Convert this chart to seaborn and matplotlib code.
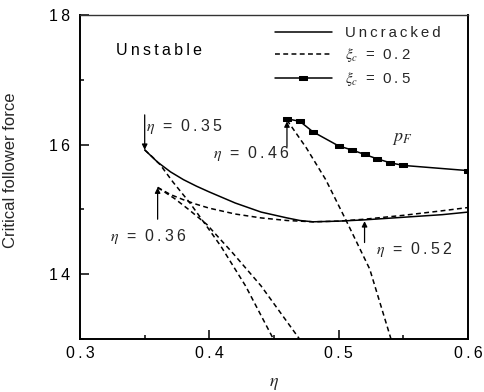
import numpy as np
import pandas as pd
import matplotlib
matplotlib.use("Agg")
import matplotlib.pyplot as plt
from matplotlib.path import Path
from matplotlib.ticker import FixedLocator, MultipleLocator
import seaborn as sns

# ---- data -------------------------------------------------------------
# Uncracked column: critical follower force (upper branch) and lower branch
eta_unc = [0.35, 0.36, 0.37, 0.38, 0.39, 0.40, 0.42, 0.44, 0.46, 0.47,
           0.48, 0.50, 0.52, 0.55, 0.58, 0.60]
p_unc = [15.92, 15.73, 15.58, 15.46, 15.36, 15.27, 15.10, 14.96, 14.87, 14.83,
         14.81, 14.82, 14.84, 14.88, 14.92, 14.96]
eta_unc_low = [0.35, 0.356, 0.362, 0.372, 0.385, 0.398, 0.409, 0.428, 0.449, 0.452]
p_unc_low = [15.92, 15.81, 15.69, 15.42, 15.10, 14.74, 14.43, 13.82, 13.02, 12.90]

# Crack depth xi_c = 0.2
eta_c02 = [0.36, 0.37, 0.38, 0.39, 0.40, 0.42, 0.44, 0.46, 0.48, 0.50,
           0.52, 0.55, 0.58, 0.60]
p_c02 = [15.34, 15.23, 15.15, 15.08, 15.02, 14.93, 14.87, 14.83, 14.81, 14.82,
         14.85, 14.91, 14.98, 15.03]
eta_c02_low = [0.36, 0.373, 0.384, 0.398, 0.418, 0.440, 0.469, 0.472]
p_c02_low = [15.34, 15.17, 15.00, 14.77, 14.33, 13.82, 13.02, 12.93]

# Crack depth xi_c = 0.5
eta_c05 = [0.46, 0.47, 0.48, 0.50, 0.51, 0.52, 0.53, 0.54, 0.55, 0.60]
p_c05 = [16.40, 16.36, 16.20, 15.98, 15.92, 15.85, 15.78, 15.72, 15.68, 15.60]
eta_c05_low = [0.46, 0.475, 0.49, 0.506, 0.524, 0.540, 0.542]
p_c05_low = [16.38, 15.95, 15.46, 14.82, 14.08, 13.03, 12.90]

x_ticks = [0.3, 0.4, 0.5, 0.6]
x_tick_labels = ["0.3", "0.4", "0.5", "0.6"]
y_ticks = [14, 16, 18]
y_tick_labels = ["14", "16", "18"]

# ---- style ------------------------------------------------------------
sns.set_theme(style="ticks")
plt.rcParams["font.family"] = ["Liberation Sans", "DejaVu Sans"]
plt.rcParams["mathtext.fontset"] = "stix"
plt.rcParams["axes.linewidth"] = 1.3


def spaced(s):
    """Letter-spaced text, as in the typeset figure."""
    return "\u2009".join(s)


fig = plt.figure(figsize=(4.85, 3.92), dpi=100)
ax = fig.add_axes([0.165, 0.135, 0.800, 0.8265])

dash = (0, (3.2, 2.2))
lw = 1.1
rect = Path([(-1, -0.6), (1, -0.6), (1, 0.6), (-1, 0.6), (-1, -0.6)],
            [Path.MOVETO, Path.LINETO, Path.LINETO, Path.LINETO, Path.CLOSEPOLY])

sns.lineplot(x=eta_unc, y=p_unc, ax=ax, color="black", lw=lw,
             estimator=None, label=spaced("Uncracked"))
sns.lineplot(x=eta_unc_low, y=p_unc_low, ax=ax, color="black", lw=lw,
             linestyle=dash, estimator=None)
sns.lineplot(x=eta_c02, y=p_c02, ax=ax, color="black", lw=lw,
             linestyle=dash, estimator=None,
             label="$\\xi_c$  =  " + spaced("0.2"))
sns.lineplot(x=eta_c02_low, y=p_c02_low, ax=ax, color="black", lw=lw,
             linestyle=dash, estimator=None)
sns.lineplot(x=eta_c05, y=p_c05, ax=ax, color="black", lw=lw,
             marker=rect, markersize=5.5, markeredgecolor="black",
             markerfacecolor="black", estimator=None,
             label="$\\xi_c$  =  " + spaced("0.5"))
sns.lineplot(x=eta_c05_low, y=p_c05_low, ax=ax, color="black", lw=lw,
             linestyle=dash, estimator=None)

# ---- axes -------------------------------------------------------------
ax.set_xlim(0.3, 0.6)
ax.set_ylim(13, 18)
ax.xaxis.set_major_locator(FixedLocator(x_ticks))
ax.xaxis.set_minor_locator(MultipleLocator(0.05))
ax.yaxis.set_major_locator(FixedLocator(y_ticks))
ax.yaxis.set_minor_locator(MultipleLocator(1))
ax.set_xticklabels([spaced(t) for t in x_tick_labels])
ax.set_yticklabels([spaced(t) for t in y_tick_labels])
ax.tick_params(which="both", direction="in", top=False, right=False,
               colors="black", labelsize=11.5, width=1.1)
ax.tick_params(which="major", length=6.5)
ax.tick_params(which="minor", length=3)
ax.tick_params(axis="x", pad=5)
ax.tick_params(axis="y", pad=7)
for side in ["left", "bottom", "right"]:
    ax.spines[side].set_color("black")
    ax.spines[side].set_linewidth(1.4)
ax.spines["top"].set_color("#333333")
ax.spines["top"].set_linewidth(1.0)

ax.set_xlabel("$\\eta$", fontsize=13)
ax.set_ylabel("Critical follower force", fontsize=12)
ax.xaxis.set_label_coords(0.5, -0.11)
ax.yaxis.set_label_coords(-0.16, 0.52)

leg = ax.legend(loc="upper right", bbox_to_anchor=(0.93, 0.965),
                frameon=False, fontsize=10.8, handlelength=3.8,
                handletextpad=0.9, labelspacing=0.4, borderpad=0,
                borderaxespad=0)

# ---- annotations ------------------------------------------------------
ax.text(0.328, 17.46, spaced("Unstable"), fontsize=11.5, va="center",
        ha="left", color="black")
ax.text(0.541, 16.10, "$p_F$", fontsize=13, va="center", ha="left")

arrow = dict(arrowstyle="-|>", color="black", lw=0.9, mutation_scale=8,
             shrinkA=0, shrinkB=0)


def mark(x_tip, y_tip, y_tail, label, tx, ty):
    ax.annotate("", xy=(x_tip, y_tip), xytext=(x_tip, y_tail),
                arrowprops=arrow)
    ax.text(tx, ty, "$\\eta$  =  " + spaced(label), fontsize=11.5,
            va="center", ha="left")


mark(eta_unc[0], p_unc[0], 16.46, "0.35", 0.351, 16.28)
mark(eta_c05[0], p_c05[0] - 0.04, 15.97, "0.46", 0.403, 15.86)
mark(eta_c02[0], p_c02[0], 14.85, "0.36", 0.323, 14.58)
x052 = 0.52
mark(x052, np.interp(x052, eta_unc, p_unc) - 0.02, 14.49, "0.52", 0.529, 14.38)

fig.savefig("out.png", dpi=100)
